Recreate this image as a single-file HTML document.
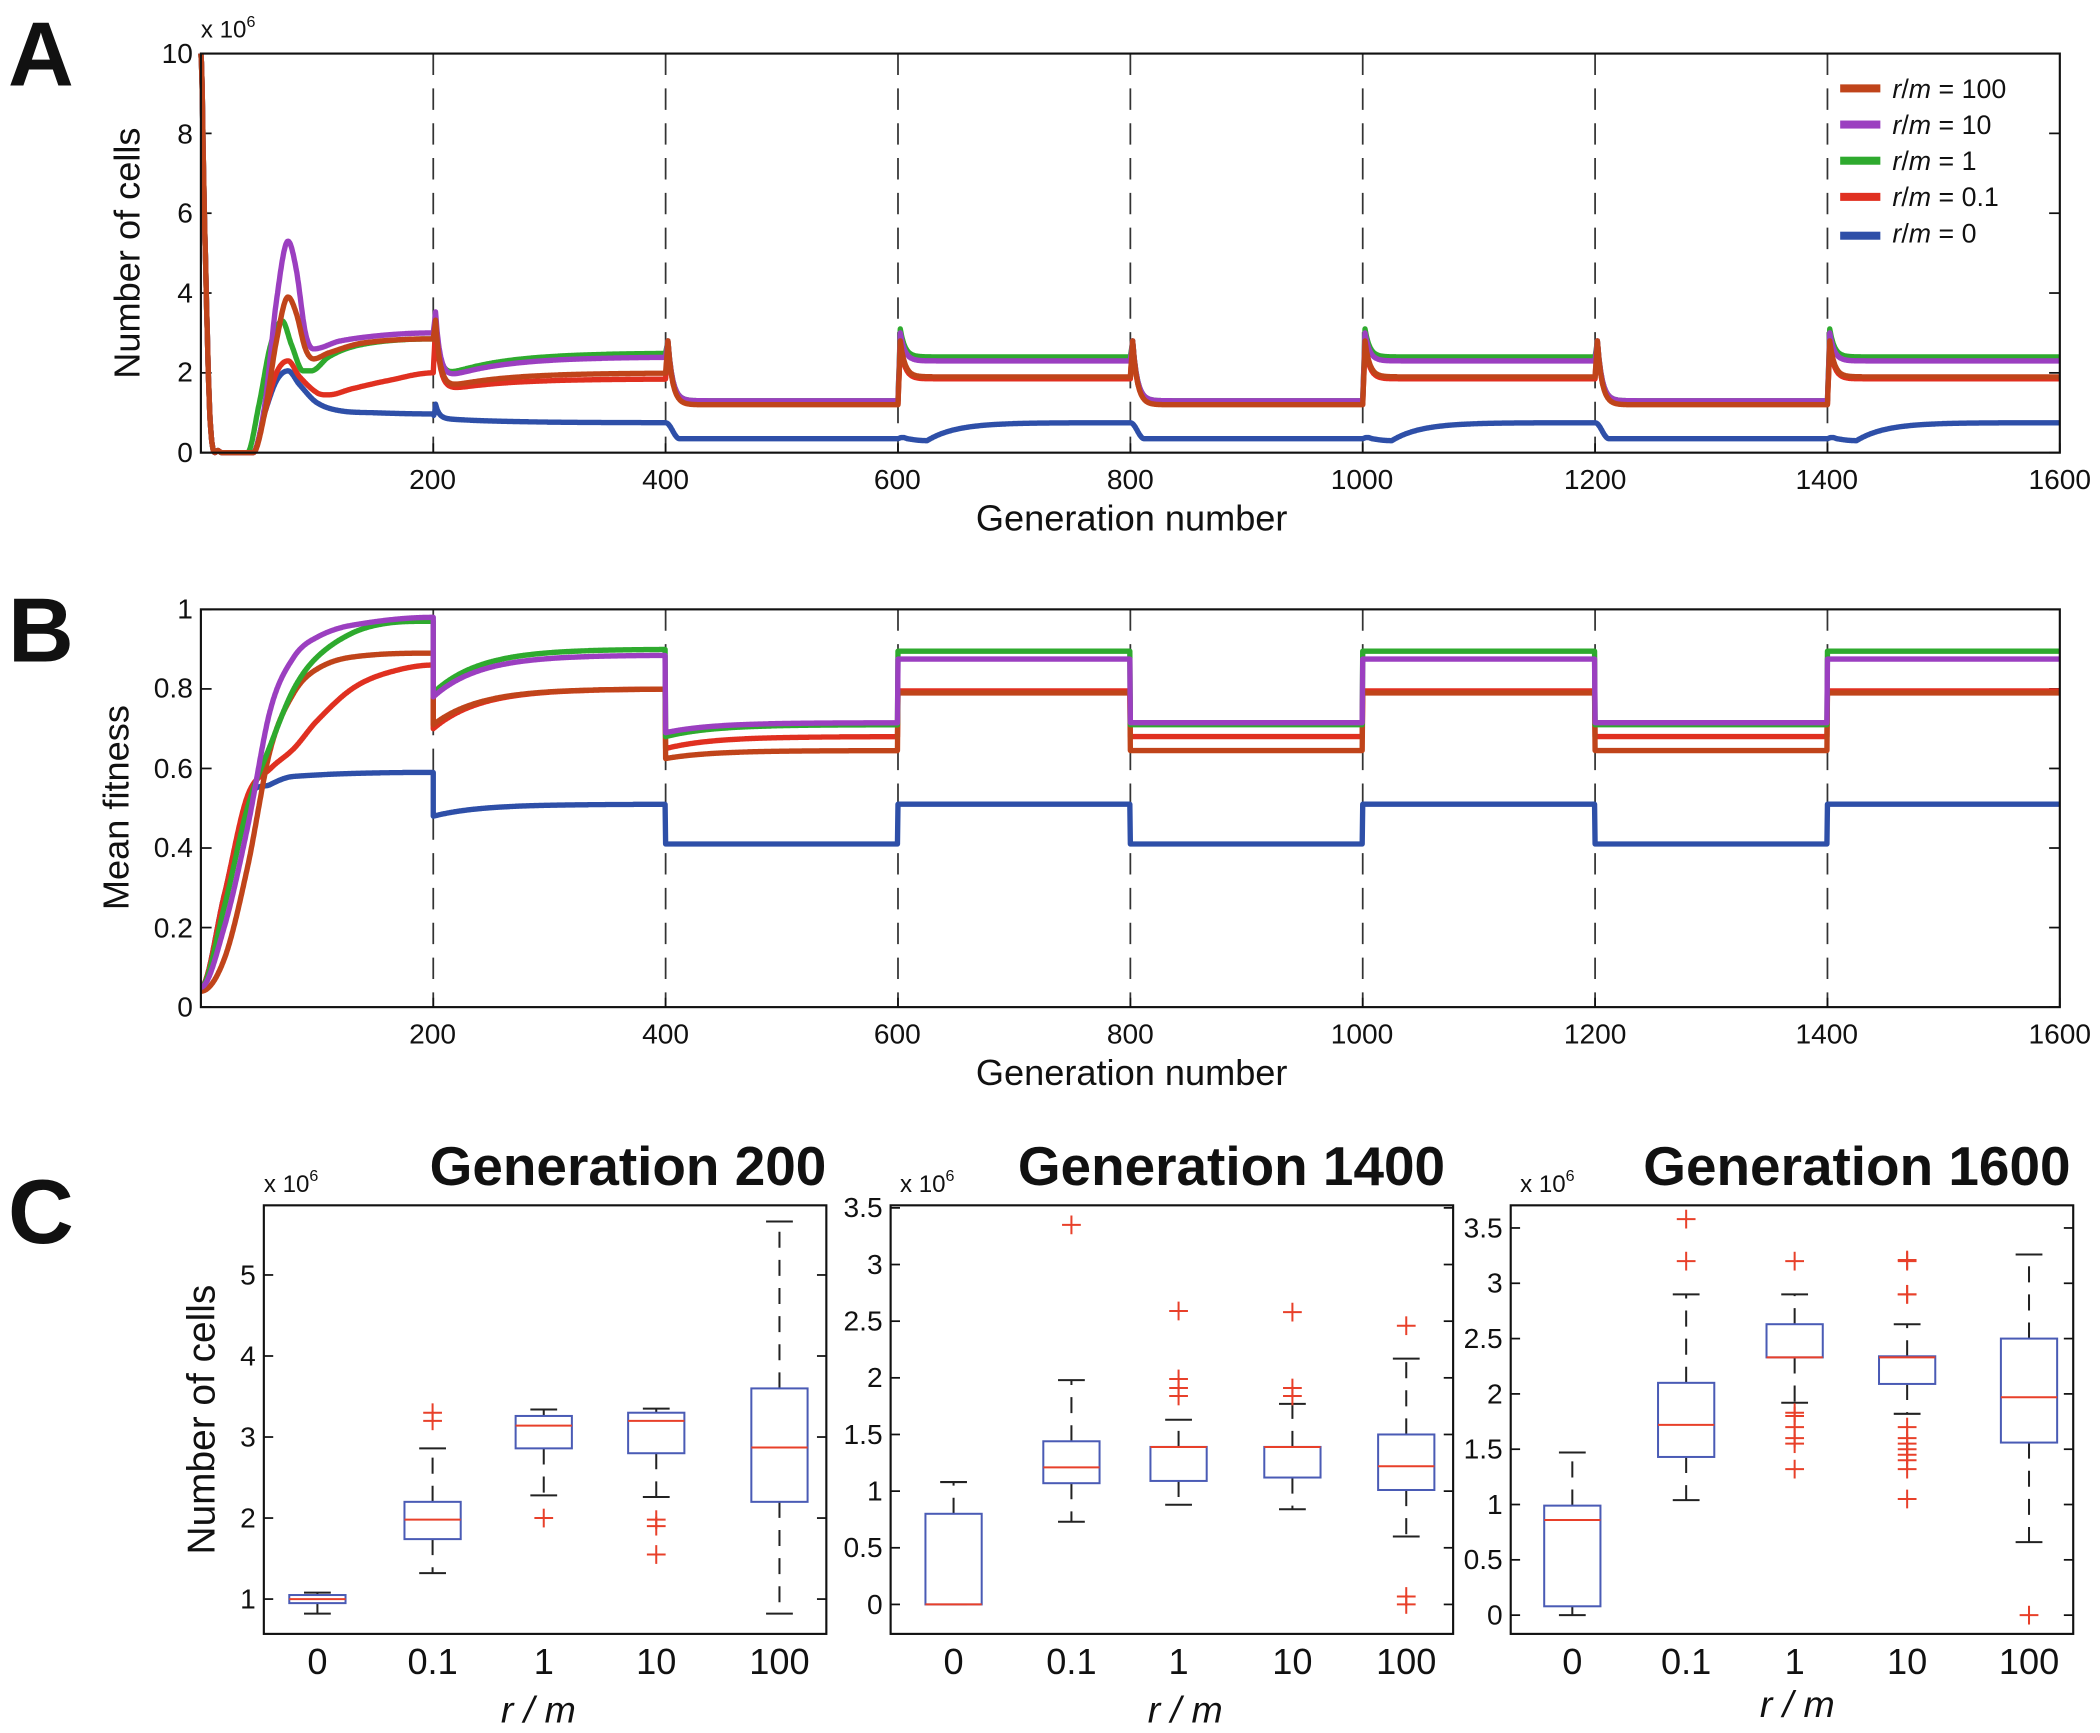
<!DOCTYPE html>
<html><head><meta charset="utf-8">
<style>
html,body{margin:0;padding:0;background:#fff;}
svg{display:block;}
text{font-family:"Liberation Sans",Arial,sans-serif;fill:#111;}
</style></head>
<body>
<svg id="s" width="2100" height="1733" viewBox="0 0 1568 1294" preserveAspectRatio="none" xmlns="http://www.w3.org/2000/svg">
<rect width="1568" height="1294" fill="#fff"/>
<text x="6" y="64" font-size="68" font-weight="bold">A</text>
<text x="6" y="494" font-size="68" font-weight="bold">B</text>
<text x="6" y="928" font-size="68" font-weight="bold">C</text>

<g id="gA"></g>
<rect x="150" y="40" width="1388" height="298" fill="none" stroke="#111" stroke-width="1.6"/>
<text x="150" y="28" font-size="18">x 10<tspan dy="-8" font-size="12">6</tspan></text>
<g font-size="21" text-anchor="end">
<text x="144" y="345">0</text><text x="144" y="285">2</text><text x="144" y="226">4</text>
<text x="144" y="166">6</text><text x="144" y="107">8</text><text x="144" y="47">10</text>
</g>
<text transform="translate(104,189) rotate(-90)" font-size="27" text-anchor="middle">Number of cells</text>
<g font-size="21" text-anchor="middle">
<text x="323" y="365">200</text><text x="497" y="365">400</text><text x="670" y="365">600</text><text x="844" y="365">800</text>
<text x="1017" y="365">1000</text><text x="1191" y="365">1200</text><text x="1364" y="365">1400</text><text x="1538" y="365">1600</text>
</g>
<text x="845" y="396" font-size="27" text-anchor="middle">Generation number</text>

<g font-size="20">
<rect x="1374" y="63" width="30" height="6" fill="#c0441a"/><text x="1413" y="73"><tspan font-style="italic">r</tspan>/<tspan font-style="italic">m</tspan> = 100</text>
<rect x="1374" y="90" width="30" height="6" fill="#9b3fc0"/><text x="1413" y="100"><tspan font-style="italic">r</tspan>/<tspan font-style="italic">m</tspan> = 10</text>
<rect x="1374" y="117" width="30" height="6" fill="#2eaa2e"/><text x="1413" y="127"><tspan font-style="italic">r</tspan>/<tspan font-style="italic">m</tspan> = 1</text>
<rect x="1374" y="144" width="30" height="6" fill="#e03020"/><text x="1413" y="154"><tspan font-style="italic">r</tspan>/<tspan font-style="italic">m</tspan> = 0.1</text>
<rect x="1374" y="173" width="30" height="6" fill="#2e4fa8"/><text x="1413" y="181"><tspan font-style="italic">r</tspan>/<tspan font-style="italic">m</tspan> = 0</text>
</g>

<g id="gB"></g>
<rect x="150" y="455" width="1388" height="297" fill="none" stroke="#111" stroke-width="1.6"/>
<g font-size="21" text-anchor="end">
<text x="144" y="759">0</text><text x="144" y="700">0.2</text><text x="144" y="640">0.4</text>
<text x="144" y="581">0.6</text><text x="144" y="521">0.8</text><text x="144" y="462">1</text>
</g>
<text transform="translate(96,603) rotate(-90)" font-size="27" text-anchor="middle">Mean fitness</text>
<g font-size="21" text-anchor="middle">
<text x="323" y="779">200</text><text x="497" y="779">400</text><text x="670" y="779">600</text><text x="844" y="779">800</text>
<text x="1017" y="779">1000</text><text x="1191" y="779">1200</text><text x="1364" y="779">1400</text><text x="1538" y="779">1600</text>
</g>
<text x="845" y="810" font-size="27" text-anchor="middle">Generation number</text>

<g id="gC"></g>
<text x="617" y="885" font-size="41" font-weight="bold" text-anchor="end">Generation 200</text>
<text x="1079" y="885" font-size="41" font-weight="bold" text-anchor="end">Generation 1400</text>
<text x="1546" y="885" font-size="41" font-weight="bold" text-anchor="end">Generation 1600</text>
<text x="197" y="890" font-size="18">x 10<tspan dy="-8" font-size="12">6</tspan></text>
<text x="672" y="890" font-size="18">x 10<tspan dy="-8" font-size="12">6</tspan></text>
<text x="1135" y="890" font-size="18">x 10<tspan dy="-8" font-size="12">6</tspan></text>
<text transform="translate(160,1060) rotate(-90)" font-size="29" text-anchor="middle">Number of cells</text>
<g font-size="28" font-style="italic" text-anchor="middle">
<text x="402" y="1286">r / m</text><text x="885" y="1286">r / m</text><text x="1342" y="1282">r / m</text>
</g>
</svg>
<script>
var NS="http://www.w3.org/2000/svg";
function el(p,tag,a){var e=document.createElementNS(NS,tag);for(var k in a)e.setAttribute(k,a[k]);p.appendChild(e);return e;}
var C={brown:"#c0441a",purple:"#9b3fc0",green:"#2eaa2e",red:"#e03020",blue:"#2e4fa8"};
function interp(kp,g){
  if(g<=kp[0][0])return kp[0][1];
  for(var i=0;i<kp.length-1;i++){if(g<=kp[i+1][0])break;}
  if(i>=kp.length-1)return kp[kp.length-1][1];
  var p0=kp[Math.max(i-1,0)],p1=kp[i],p2=kp[i+1],p3=kp[Math.min(i+2,kp.length-1)];
  var h=p2[0]-p1[0],t=(g-p1[0])/h;
  var m1=(p2[1]-p0[1])/(p2[0]-p0[0]||1)*h, m2=(p3[1]-p1[1])/(p3[0]-p1[0]||1)*h;
  if((p1[1]-p0[1])*(p2[1]-p1[1])<=0)m1=0; if((p2[1]-p1[1])*(p3[1]-p2[1])<=0)m2=0;
  var t2=t*t,t3=t2*t;
  return (2*t3-3*t2+1)*p1[1]+(t3-2*t2+t)*m1+(-2*t3+3*t2)*p2[1]+(t3-t2)*m2;
}
function X(g){return 150+g*1388/1600;}
["gA","gB"].forEach(function(id,j){var g=document.getElementById(id);
 var y0=j?455:40,y1=j?752:338;
 for(var k=1;k<8;k++){el(g,"line",{x1:X(200*k),x2:X(200*k),y1:y0,y2:y1,stroke:"#333","stroke-width":1.3,"stroke-dasharray":"16,10"});}
 var ticks=j?[0,.2,.4,.6,.8,1]:[0,2,4,6,8,10];
 ticks.forEach(function(v){var y=j?752-v*297:338-v*29.8;el(g,"line",{x1:150,x2:158,y1:y,y2:y,stroke:"#111","stroke-width":1.3});el(g,"line",{x1:1530,x2:1538,y1:y,y2:y,stroke:"#111","stroke-width":1.3});});
 for(var k=1;k<=8;k++){el(g,"line",{x1:X(200*k),x2:X(200*k),y1:y1,y2:y1-7,stroke:"#111","stroke-width":1.3});}
});
var start=[[0,10],[3,6],[8,0.8],[15,0.05]];
var earlyA={
 brown:start.concat([[45,0],[55,1.0],[65,2.8],[75,3.9],[82,3.5],[90,2.6],[97,2.35],[110,2.5],[140,2.75],[200,2.85]]),
 purple:start.concat([[45,0],[55,1.2],[65,3.8],[75,5.3],[82,4.6],[90,3.0],[97,2.6],[120,2.8],[160,2.95],[200,3.0]]),
 green:start.concat([[40,0],[50,1.2],[60,2.7],[70,3.3],[78,2.7],[88,2.05],[95,2.05],[110,2.4],[130,2.65],[160,2.8],[200,2.85]]),
 red:start.concat([[45,0],[55,1.0],[65,2.0],[75,2.3],[85,1.9],[100,1.5],[110,1.45],[130,1.6],[160,1.8],[200,2.0]]),
 blue:start.concat([[45,0],[55,1.0],[65,1.8],[75,2.05],[85,1.7],[100,1.25],[120,1.05],[150,1.0],[200,0.97]])
};
var A={
 green:[1.8,2.5,1.3,2.4,1.3,3.1],purple:[1.75,2.4,1.3,2.3,1.3,3.0],
 brown:[1.55,2.0,1.2,1.9,1.2,2.8],red:[1.5,1.85,1.22,1.85,1.22,2.7]};
function valA(c,g){
 if(g<=200)return Math.max(0,interp(earlyA[c],g));
 var k=Math.floor(g/200),t=g-200*k; if(k==8){k=7;t=200;}
 if(c=="blue"){
  if(k==1){var b=0.75+0.12*Math.exp(-t/50);return b+ (t<2?(0.25*t/2):0.35*Math.exp(-(t-2)/3));}
  if(k%2==0){return t<12?0.75-0.4*(1-Math.cos(Math.PI*t/12))/2:0.35;}
  if(t<8)return 0.35+0.03*Math.sin(Math.PI*t/8);
  if(t<25)return 0.35-0.05*Math.sin(Math.PI*(t-8)/34);
  return 0.75-0.45*Math.exp(-(t-25)/25);
 }
 var p=A[c],base,prev,peak=p[5];
 if(k==1){base=p[1]-(p[1]-p[0])*Math.exp(-t/50);prev=earlyA[c][earlyA[c].length-1][1];peak=c=="purple"?3.5:(c=="brown"?3.3:3.2);}
 else if(k==2){base=p[2];prev=p[1];peak=2.8;}
 else if(k%2==1){base=p[3];prev=p[4];}
 else{base=p[4];prev=p[3];peak=2.8;}
 if(t<2)return prev+(peak-prev)*t/2;
 var b0=(k==1)?p[0]:base;
 return base+(peak-b0)*Math.exp(-(t-2)/4);
}
var gA=document.getElementById("gA");
["blue","red","green","purple","brown"].forEach(function(c){
 var d="";for(var g=0;g<=1600;g+=0.5){var v=valA(c,g);d+=(g?"L":"M")+X(g).toFixed(1)+","+(338-v*29.8).toFixed(1);}
 el(gA,"path",{d:d,fill:"none",stroke:C[c],"stroke-width":4,"stroke-linejoin":"round"});
});
var earlyB={
 purple:[[0,.05],[20,.2],[40,.45],[60,.75],[80,.88],[100,.93],[130,.96],[200,.98]],
 green:[[0,.05],[20,.25],[40,.5],[60,.66],[80,.8],[100,.88],[130,.94],[160,.965],[200,.97]],
 brown:[[0,.04],[20,.12],[40,.35],[60,.65],[80,.79],[100,.85],[130,.88],[200,.89]],
 red:[[0,.05],[20,.28],[40,.53],[60,.6],[80,.65],[100,.72],[130,.8],[160,.84],[200,.86]],
 blue:[[0,.05],[20,.28],[40,.52],[60,.56],[80,.58],[200,.59]]
};
var B={green:[.79,.90,.68,.71,.895,.71],purple:[.78,.885,.69,.715,.875,.715],
 brown:[.71,.80,.625,.645,.79,.645],red:[.70,.80,.65,.68,.795,.68],blue:[.48,.51,.41,.41,.51,.41]};
function valB(c,g){
 if(g<=200)return interp(earlyB[c],g);
 var k=Math.floor(g/200),t=g-200*k;if(k==8){k=7;t=200;}
 var p=B[c];
 if(k==1)return p[1]-(p[1]-p[0])*Math.exp(-t/40);
 if(k==2)return p[3]-(p[3]-p[2])*Math.exp(-t/40);
 return k%2?p[4]:p[5];
}
var gB=document.getElementById("gB");
["blue","red","brown","green","purple"].forEach(function(c){
 var d="";for(var g=0;g<=1600;g+=0.5){var v=valB(c,g);
  d+=(g?"L":"M")+X(g).toFixed(1)+","+(752-v*297).toFixed(1);
  if(g%200==0&&g>0&&g<1600){var v2=valB(c,g+0.01);d+="L"+X(g).toFixed(1)+","+(752-v2*297).toFixed(1);}
 }
 el(gB,"path",{d:d,fill:"none",stroke:C[c],"stroke-width":4,"stroke-linejoin":"round"});
});
var gC=document.getElementById("gC");
var panels=[
 {x0:197,x1:617,f:function(v){return 1194-(v-1)*60.5;},ticks:[[1,"1"],[2,"2"],[3,"3"],[4,"4"],[5,"5"]],cx:[237,323,406,490,582],
  b:[[.82,1.08,.95,1.05,1.0,[]],[1.32,2.86,1.74,2.2,1.98,[3.3,3.2]],[2.28,3.34,2.86,3.26,3.14,[2.0]],[2.26,3.35,2.8,3.3,3.2,[1.98,1.9,1.55]],[.82,5.66,2.2,3.6,2.87,[]]]},
 {x0:665,x1:1085,f:function(v){return 1198-v*84.6;},ticks:[[0,"0"],[.5,"0.5"],[1,"1"],[1.5,"1.5"],[2,"2"],[2.5,"2.5"],[3,"3"],[3.5,"3.5"]],cx:[712,800,880,965,1050],
  b:[[0,1.08,0,.8,0,[]],[.73,1.98,1.07,1.44,1.21,[3.35]],[.88,1.63,1.09,1.39,1.39,[2.59,1.99,1.91,1.84]],[.84,1.77,1.12,1.39,1.39,[2.58,1.91,1.84]],[.6,2.17,1.01,1.5,1.22,[2.46,.07,0]]]},
 {x0:1128,x1:1548,f:function(v){return 1206-v*82.6;},ticks:[[0,"0"],[.5,"0.5"],[1,"1"],[1.5,"1.5"],[2,"2"],[2.5,"2.5"],[3,"3"],[3.5,"3.5"]],cx:[1174,1259,1340,1424,1515],
  b:[[0,1.47,.08,.99,.86,[]],[1.04,2.9,1.43,2.1,1.72,[3.58,3.2]],[1.92,2.9,2.33,2.63,2.33,[3.2,1.83,1.8,1.7,1.6,1.55,1.32]],[1.82,2.63,2.09,2.34,2.33,[3.2,3.21,2.9,2.9,1.7,1.6,1.55,1.5,1.45,1.4,1.32,1.05]],[.66,3.26,1.56,2.5,1.97,[0]]]}
];
var labs=["0","0.1","1","10","100"];
panels.forEach(function(P){
 el(gC,"rect",{x:P.x0,y:900,width:P.x1-P.x0,height:320,fill:"none",stroke:"#111","stroke-width":1.6});
 P.ticks.forEach(function(t){var y=P.f(t[0]);
  el(gC,"line",{x1:P.x0,x2:P.x0+7,y1:y,y2:y,stroke:"#111","stroke-width":1.3});
  el(gC,"line",{x1:P.x1-7,x2:P.x1,y1:y,y2:y,stroke:"#111","stroke-width":1.3});
  var tx=el(gC,"text",{x:P.x0-6,y:y+7,"font-size":21,"text-anchor":"end"});tx.textContent=t[1];});
 P.b.forEach(function(b,i){var x=P.cx[i];
  var lab=el(gC,"text",{x:x,y:1250,"font-size":27,"text-anchor":"middle"});lab.textContent=labs[i];
  el(gC,"line",{x1:x,x2:x,y1:P.f(b[3]),y2:P.f(b[1]),stroke:"#222","stroke-width":1.5,"stroke-dasharray":"12,9"});
  el(gC,"line",{x1:x,x2:x,y1:P.f(b[2]),y2:P.f(b[0]),stroke:"#222","stroke-width":1.5,"stroke-dasharray":"12,9"});
  el(gC,"line",{x1:x-10,x2:x+10,y1:P.f(b[1]),y2:P.f(b[1]),stroke:"#222","stroke-width":1.5});
  el(gC,"line",{x1:x-10,x2:x+10,y1:P.f(b[0]),y2:P.f(b[0]),stroke:"#222","stroke-width":1.5});
  el(gC,"rect",{x:x-21,y:P.f(b[3]),width:42,height:Math.max(P.f(b[2])-P.f(b[3]),0.5),fill:"#fff",stroke:"#4a5bb5","stroke-width":1.5});
  el(gC,"line",{x1:x-21,x2:x+21,y1:P.f(b[4]),y2:P.f(b[4]),stroke:"#e8402a","stroke-width":1.5});
  b[5].forEach(function(o){var y=P.f(o);
   el(gC,"line",{x1:x-7,x2:x+7,y1:y,y2:y,stroke:"#e8402a","stroke-width":1.5});
   el(gC,"line",{x1:x,x2:x,y1:y-7,y2:y+7,stroke:"#e8402a","stroke-width":1.5});});
 });
});
</script>
</body></html>
